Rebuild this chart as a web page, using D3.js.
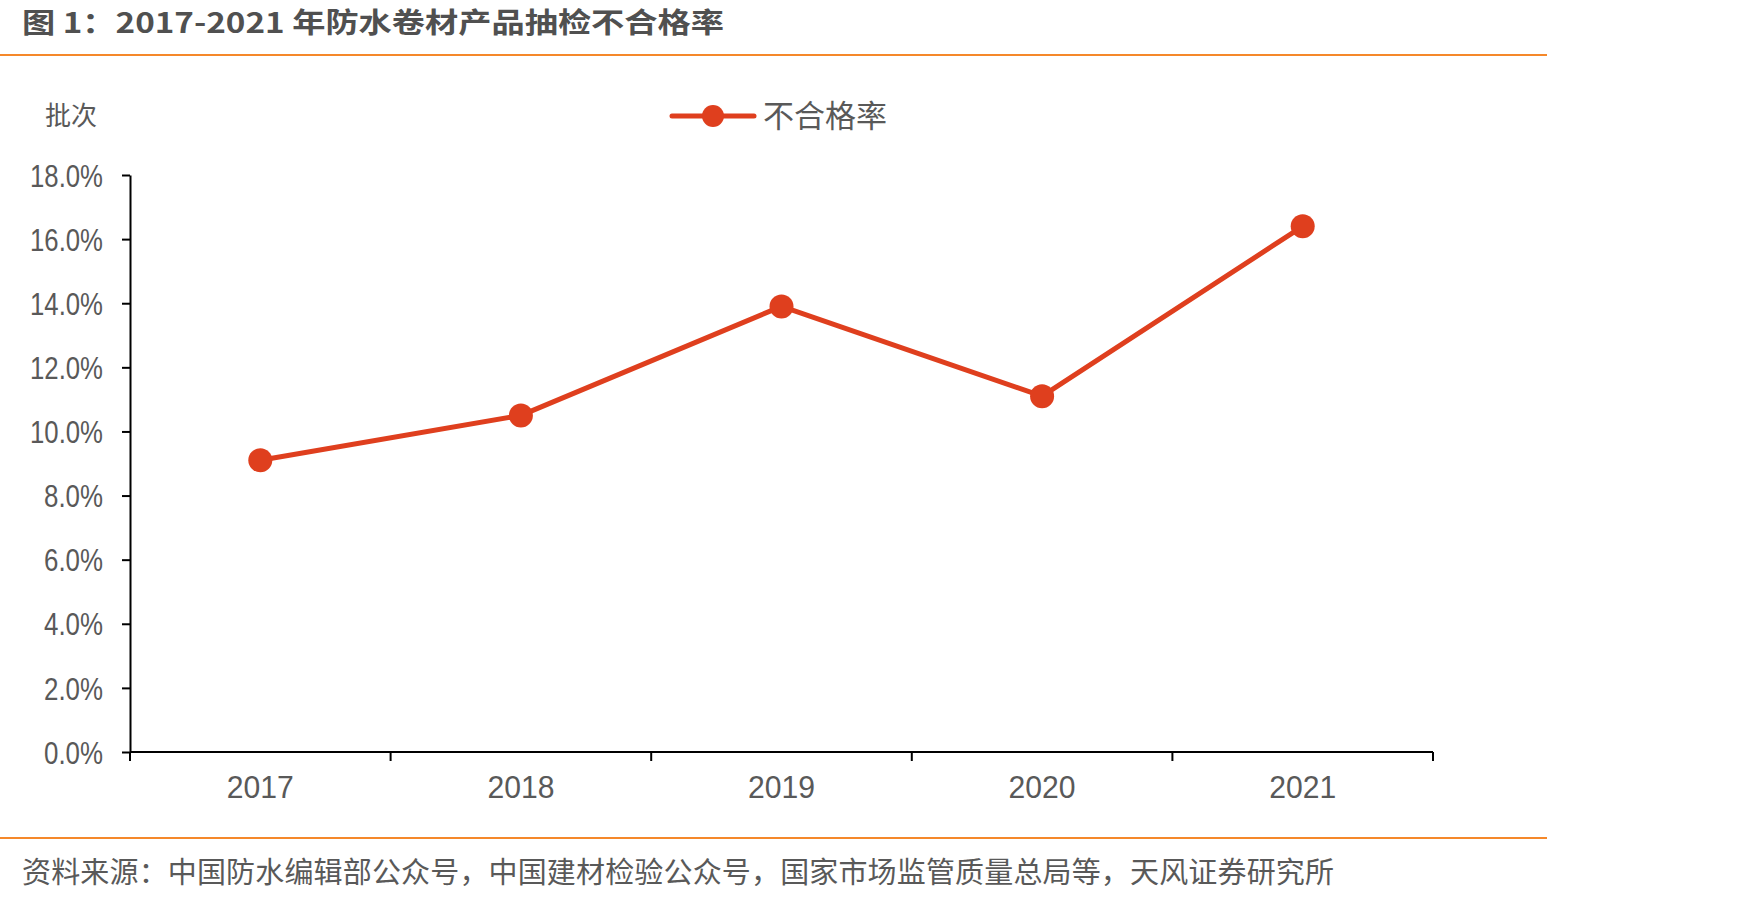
<!DOCTYPE html>
<html>
<head>
<meta charset="utf-8">
<script src="https://cdn.jsdelivr.net/npm/d3@7"></script>
<style>
  body { margin: 0; background: #fff; }
  svg { display: block; }
  text { font-family: "Liberation Sans", "Noto Sans CJK SC", sans-serif; }
  .cjk { font-family: "Noto Sans CJK SC", sans-serif; }
</style>
</head>
<body>
<svg id="chart" width="1747" height="901"></svg>
<script>
// chart data
const years = ['2017', '2018', '2019', '2020', '2021'];
const failRate = [9.1, 10.5, 13.9, 11.1, 16.4]; // 不合格率 (%)
const yTicks = [0, 2, 4, 6, 8, 10, 12, 14, 16, 18];

const titleText = '图 1：2017-2021 年防水卷材产品抽检不合格率';
const sourceText = '资料来源：中国防水编辑部公众号，中国建材检验公众号，国家市场监管质量总局等，天风证券研究所';
const seriesName = '不合格率';
const unitLabel = '批次';

const red = '#df3f1e';
const orange = '#f5882a';
const grey = '#595959';

const svg = d3.select('#chart');

// title + top rule
svg.append('text')
  .attr('class', 'cjk')
  .attr('x', 22).attr('y', 33)
  .attr('font-size', 28).attr('font-weight', 'bold')
  .attr('fill', '#505050')
  .attr('textLength', 702).attr('lengthAdjust', 'spacingAndGlyphs')
  .text(titleText);

svg.append('line')
  .attr('x1', 0).attr('x2', 1547).attr('y1', 55).attr('y2', 55)
  .attr('stroke', orange).attr('stroke-width', 2);

// bottom rule + source
svg.append('line')
  .attr('x1', 0).attr('x2', 1547).attr('y1', 838).attr('y2', 838)
  .attr('stroke', orange).attr('stroke-width', 2);

svg.append('text')
  .attr('class', 'cjk')
  .attr('x', 22).attr('y', 883)
  .attr('font-size', 29)
  .attr('fill', grey)
  .attr('textLength', 1312).attr('lengthAdjust', 'spacing')
  .text(sourceText);

// scales
const x = d3.scaleBand().domain(years).range([130, 1433]);
const y = d3.scaleLinear().domain([0, 18]).range([752, 175]);

// y axis
const yAxis = svg.append('g')
  .attr('transform', 'translate(130,0)')
  .call(d3.axisLeft(y).tickValues(yTicks).tickSize(8).tickSizeOuter(0)
    .tickFormat(d => d.toFixed(1) + '%'));
yAxis.select('.domain').attr('stroke', '#000').attr('stroke-width', 2);
yAxis.selectAll('.tick line').attr('stroke', '#000').attr('stroke-width', 2);
// narrow the labels a bit, like the condensed face in the original
yAxis.selectAll('.tick text')
  .attr('x', -27)
  .attr('dy', '0.36em')
  .attr('font-size', 31)
  .attr('fill', grey)
  .attr('textLength', d => d >= 10 ? 73 : 59)
  .attr('lengthAdjust', 'spacingAndGlyphs')
  .style('font-family', '"Liberation Sans", sans-serif');

// x axis (ticks at band boundaries)
const xAxis = svg.append('g').attr('transform', 'translate(0,752)');
xAxis.append('line')
  .attr('x1', 130).attr('x2', 1433)
  .attr('stroke', '#000').attr('stroke-width', 2);
const bounds = years.map(d => x(d)).concat([x.range()[1]]);
xAxis.selectAll('line.tick')
  .data(bounds)
  .join('line')
  .classed('tick', true)
  .attr('x1', d => d).attr('x2', d => d)
  .attr('y1', 0).attr('y2', 9)
  .attr('stroke', '#000').attr('stroke-width', 2);
xAxis.selectAll('text')
  .data(years)
  .join('text')
  .attr('x', d => x(d) + x.bandwidth() / 2)
  .attr('y', 46)
  .attr('text-anchor', 'middle')
  .attr('font-size', 32)
  .attr('fill', grey)
  .attr('textLength', 67).attr('lengthAdjust', 'spacingAndGlyphs')
  .text(d => d);

// unit label
svg.append('text')
  .attr('class', 'cjk')
  .attr('x', 45).attr('y', 125)
  .attr('font-size', 26)
  .attr('fill', grey)
  .text(unitLabel);

// line series
const pts = years.map((d, i) => [x(d) + x.bandwidth() / 2, y(failRate[i])]);

svg.append('path')
  .attr('d', d3.line()(pts))
  .attr('fill', 'none')
  .attr('stroke', red)
  .attr('stroke-width', 5)
  .attr('stroke-linejoin', 'round');

svg.selectAll('circle.pt')
  .data(pts)
  .join('circle')
  .classed('pt', true)
  .attr('cx', d => d[0]).attr('cy', d => d[1])
  .attr('r', 12)
  .attr('fill', red);

// legend
const lg = svg.append('g').attr('transform', 'translate(672,116)');
lg.append('line')
  .attr('x1', 0).attr('x2', 82)
  .attr('stroke', red).attr('stroke-width', 5).attr('stroke-linecap', 'round');
lg.append('circle').attr('cx', 41).attr('r', 11).attr('fill', red);
lg.append('text')
  .attr('class', 'cjk')
  .attr('x', 91).attr('y', 11)
  .attr('font-size', 31)
  .attr('fill', grey)
  .text(seriesName);
</script>
</body>
</html>
